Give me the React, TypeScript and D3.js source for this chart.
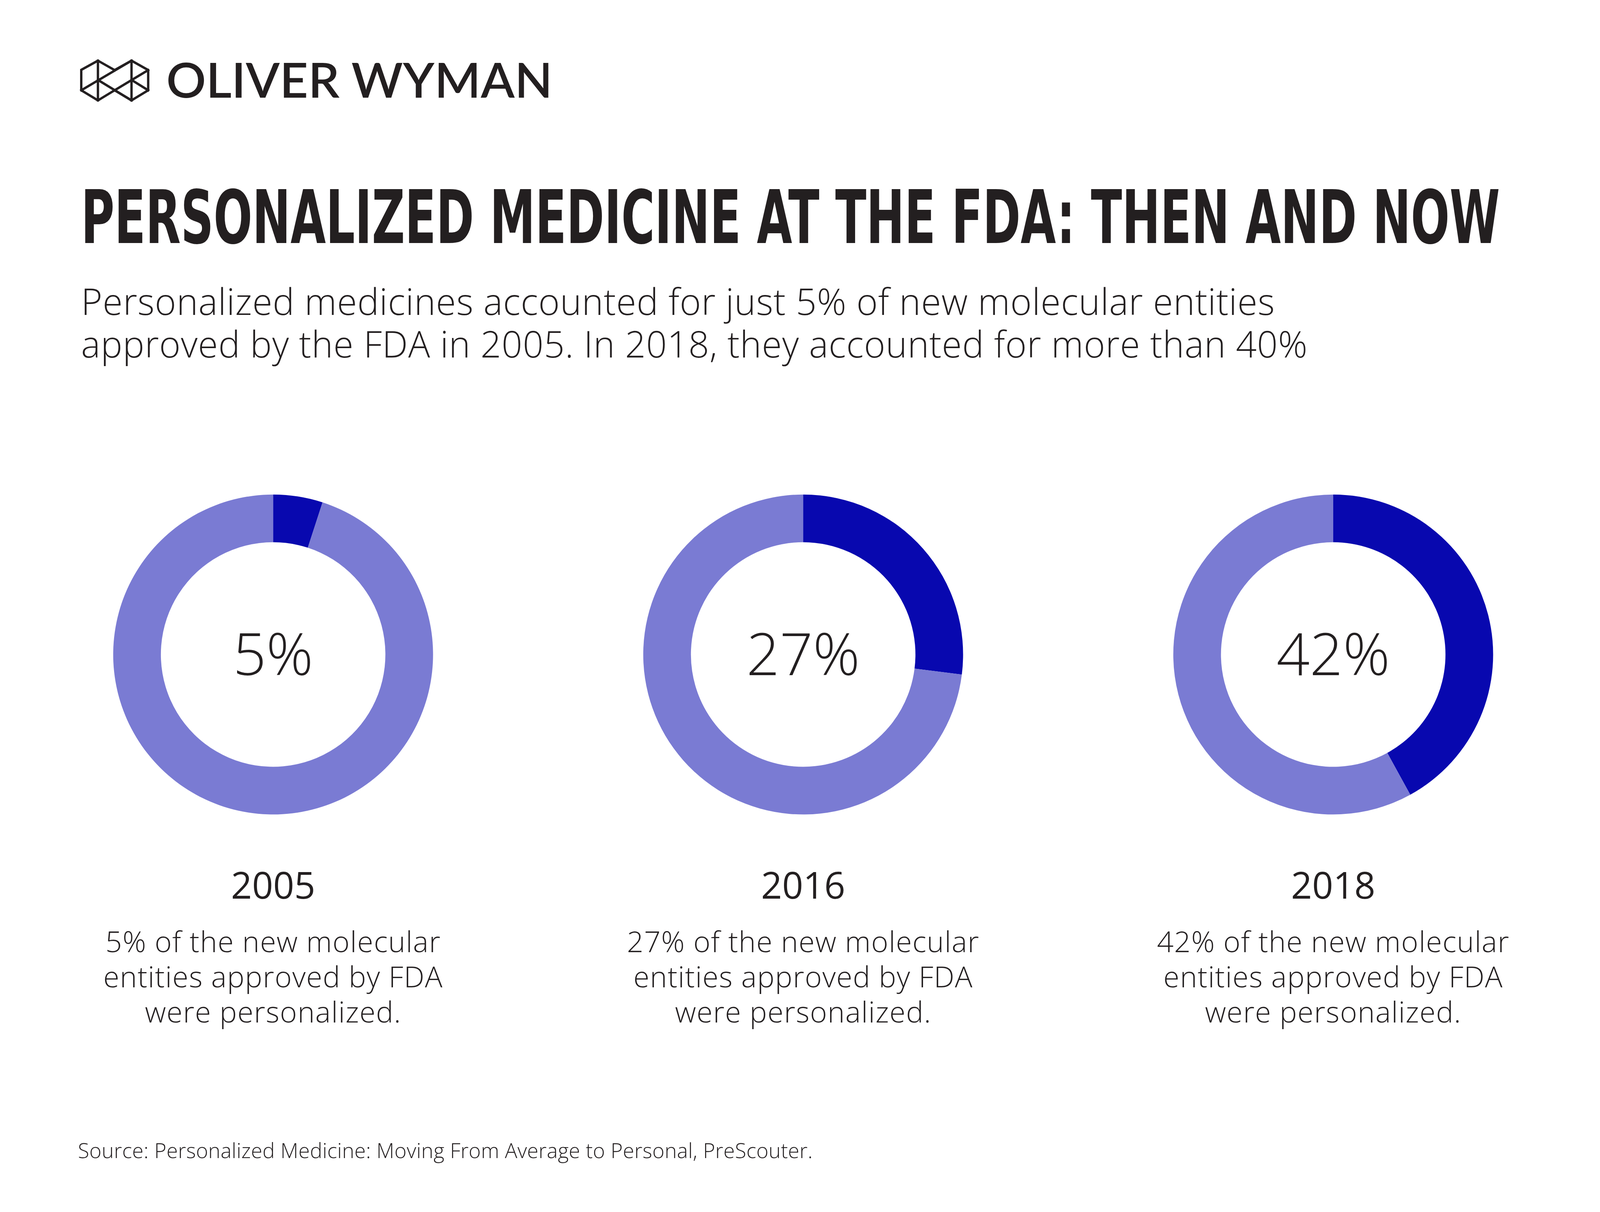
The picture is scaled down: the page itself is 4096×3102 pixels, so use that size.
import React from "react";
import * as d3 from "d3";

// data
const years = ["2005", "2016", "2018"];
const personalizedShare = [5, 27, 42];
const descTail = ["entities approved by FDA", "were personalized."];

const titleText = "PERSONALIZED MEDICINE AT THE FDA: THEN AND NOW";
const subtitleLines = [
  "Personalized medicines accounted for just 5% of new molecular entities",
  "approved by the FDA in 2005. In 2018, they accounted for more than 40%",
];
const sourceText =
  "Source: Personalized Medicine: Moving From Average to Personal, PreScouter.";

const W = 6813;
const H = 5159;
const INK = "#231f20";
const LIGHT = "#7a7bd3";
const DARK = "#0808af";
const SANS = "'Open Sans', 'Noto Sans', sans-serif";

// logo mark points (reference pixel units)
const P = {
  A: [346, 297], B: [417, 258], C: [417, 427], D: [346, 384],
  E: [488, 298], F: [417, 340], G: [560, 258], Hh: [488, 384],
  I: [560, 427], J: [631, 298], K: [631, 384], L: [560, 340],
};

const Logo = () => {
  const line = d3.line();
  const segs = [
    [P.E, P.B, P.A, P.D, P.C, P.Hh],
    [P.E, P.G, P.J, P.K, P.I, P.Hh],
    [P.B, P.C],
    [P.G, P.I],
    [P.D, P.G],
    [P.F, P.I],
    [P.Hh, P.J],
    [P.L, P.K],
  ];
  return (
    <g>
      {segs.map((s, i) => (
        <path
          key={i}
          d={line(s)}
          fill="none"
          stroke={INK}
          strokeWidth={10}
          strokeLinejoin="miter"
          strokeLinecap="square"
        />
      ))}
      <text
        x={708}
        y={415}
        fontFamily="Lato, 'Open Sans', sans-serif"
        fontWeight={600}
        fontSize={205}
        fill={INK}
        textLength={1645}
        lengthAdjust="spacingAndGlyphs"
      >
        OLIVER WYMAN
      </text>
    </g>
  );
};

const Donut = ({ year, share, cx }) => {
  const cy = 2786;
  const pie = d3.pie<number>().sort(null).value((d) => d);
  const arc = d3.arc().innerRadius(478).outerRadius(681);
  const arcs = pie([share, 100 - share]);
  return (
    <g>
      <g transform={`translate(${cx},${cy})`}>
        {arcs.map((a, i) => (
          <path key={i} d={arc(a as any)} fill={i === 0 ? DARK : LIGHT} />
        ))}
        <text
          y={248 * 0.357}
          textAnchor="middle"
          fontFamily={SANS}
          fontWeight={300}
          fontSize={248}
          fill={INK}
        >
          {share}%
        </text>
      </g>
      <text
        x={cx}
        y={3825}
        textAnchor="middle"
        fontFamily={SANS}
        fontWeight={400}
        fontSize={157}
        fill={INK}
      >
        {year}
      </text>
      {[`${share}% of the new molecular`, ...descTail].map((t, i) => (
        <text
          key={i}
          x={cx}
          y={4053 + i * 150}
          textAnchor="middle"
          fontFamily={SANS}
          fontWeight={300}
          fontSize={124}
          letterSpacing={2.3}
          fill={INK}
        >
          {t}
        </text>
      ))}
    </g>
  );
};

export default function App() {
  const x = d3.scalePoint().domain(years).range([1163, 5677]);
  return (
    <svg
      width={4096}
      height={3102}
      viewBox={`0 0 ${W} ${H}`}
      style={{ position: "absolute", left: 0, top: 0, background: "#fff" }}
    >
      <rect width={W} height={H} fill="#fff" />
      <Logo />
      <text
        x={345}
        y={1035}
        fontFamily="'Liberation Sans Narrow', 'DejaVu Sans Condensed', sans-serif"
        fontWeight={700}
        fontSize={314}
        fill={INK}
        textLength={6042}
        lengthAdjust="spacingAndGlyphs"
      >
        {titleText}
      </text>
      {subtitleLines.map((t, i) => (
        <text
          key={i}
          x={345}
          y={1340 + i * 182}
          fontFamily={SANS}
          fontWeight={300}
          fontSize={155}
          letterSpacing={1.5}
          fill={INK}
        >
          {t}
        </text>
      ))}
      {years.map((y, i) => (
        <Donut key={y} year={y} share={personalizedShare[i]} cx={x(y)} />
      ))}
      <text
        x={332}
        y={4930}
        fontFamily={SANS}
        fontWeight={300}
        fontSize={88}
        letterSpacing={0.65}
        fill={INK}
      >
        {sourceText}
      </text>
    </svg>
  );
}
